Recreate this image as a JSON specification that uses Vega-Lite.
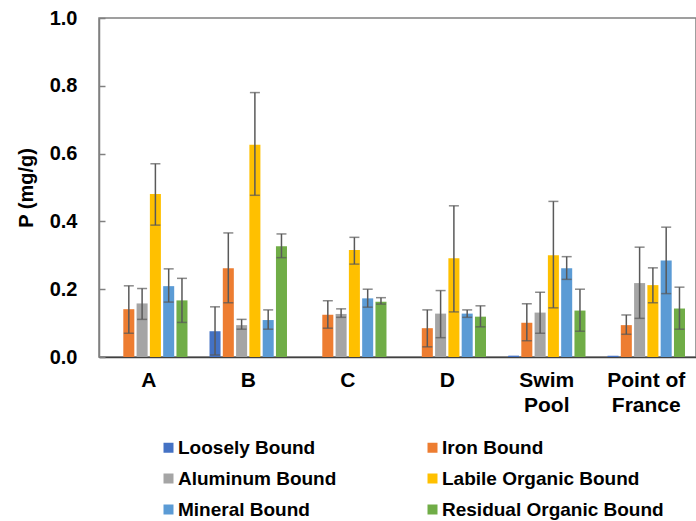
{
  "$schema": "https://vega.github.io/schema/vega-lite/v6.json",
  "width": 597,
  "height": 339,
  "autosize": "none",
  "padding": {"left": 99, "top": 18, "right": 0, "bottom": 164},
  "config": {
    "view": {"stroke": "#808080", "strokeWidth": 1.5},
    "font": "Liberation Sans"
  },
  "data": {
    "values": [
      {"site": "A", "fraction": "Loosely Bound", "value": 0},
      {"site": "A", "fraction": "Iron Bound", "value": 0.141, "lo": 0.070, "hi": 0.210},
      {"site": "A", "fraction": "Aluminum Bound", "value": 0.158, "lo": 0.111, "hi": 0.202},
      {"site": "A", "fraction": "Labile Organic Bound", "value": 0.481, "lo": 0.389, "hi": 0.570},
      {"site": "A", "fraction": "Mineral Bound", "value": 0.209, "lo": 0.162, "hi": 0.260},
      {"site": "A", "fraction": "Residual Organic Bound", "value": 0.167, "lo": 0.102, "hi": 0.232},
      {"site": "B", "fraction": "Loosely Bound", "value": 0.076, "lo": 0.006, "hi": 0.148},
      {"site": "B", "fraction": "Iron Bound", "value": 0.262, "lo": 0.160, "hi": 0.366},
      {"site": "B", "fraction": "Aluminum Bound", "value": 0.094, "lo": 0.082, "hi": 0.111},
      {"site": "B", "fraction": "Labile Organic Bound", "value": 0.626, "lo": 0.477, "hi": 0.780},
      {"site": "B", "fraction": "Mineral Bound", "value": 0.109, "lo": 0.082, "hi": 0.139},
      {"site": "B", "fraction": "Residual Organic Bound", "value": 0.327, "lo": 0.293, "hi": 0.363},
      {"site": "C", "fraction": "Loosely Bound", "value": 0},
      {"site": "C", "fraction": "Iron Bound", "value": 0.125, "lo": 0.085, "hi": 0.166},
      {"site": "C", "fraction": "Aluminum Bound", "value": 0.127, "lo": 0.117, "hi": 0.142},
      {"site": "C", "fraction": "Labile Organic Bound", "value": 0.316, "lo": 0.274, "hi": 0.353},
      {"site": "C", "fraction": "Mineral Bound", "value": 0.173, "lo": 0.147, "hi": 0.200},
      {"site": "C", "fraction": "Residual Organic Bound", "value": 0.163, "lo": 0.156, "hi": 0.175},
      {"site": "D", "fraction": "Loosely Bound", "value": 0},
      {"site": "D", "fraction": "Iron Bound", "value": 0.085, "lo": 0.030, "hi": 0.139},
      {"site": "D", "fraction": "Aluminum Bound", "value": 0.128, "lo": 0.057, "hi": 0.196},
      {"site": "D", "fraction": "Labile Organic Bound", "value": 0.291, "lo": 0.133, "hi": 0.446},
      {"site": "D", "fraction": "Mineral Bound", "value": 0.128, "lo": 0.117, "hi": 0.139},
      {"site": "D", "fraction": "Residual Organic Bound", "value": 0.119, "lo": 0.089, "hi": 0.151},
      {"site": "Swim Pool", "fraction": "Loosely Bound", "value": 0.004},
      {"site": "Swim Pool", "fraction": "Iron Bound", "value": 0.101, "lo": 0.048, "hi": 0.157},
      {"site": "Swim Pool", "fraction": "Aluminum Bound", "value": 0.131, "lo": 0.070, "hi": 0.191},
      {"site": "Swim Pool", "fraction": "Labile Organic Bound", "value": 0.300, "lo": 0.145, "hi": 0.459},
      {"site": "Swim Pool", "fraction": "Mineral Bound", "value": 0.262, "lo": 0.229, "hi": 0.296},
      {"site": "Swim Pool", "fraction": "Residual Organic Bound", "value": 0.137, "lo": 0.076, "hi": 0.200},
      {"site": "Point of France", "fraction": "Loosely Bound", "value": 0.004},
      {"site": "Point of France", "fraction": "Iron Bound", "value": 0.094, "lo": 0.067, "hi": 0.124},
      {"site": "Point of France", "fraction": "Aluminum Bound", "value": 0.218, "lo": 0.114, "hi": 0.324},
      {"site": "Point of France", "fraction": "Labile Organic Bound", "value": 0.212, "lo": 0.160, "hi": 0.263},
      {"site": "Point of France", "fraction": "Mineral Bound", "value": 0.285, "lo": 0.187, "hi": 0.383},
      {"site": "Point of France", "fraction": "Residual Organic Bound", "value": 0.143, "lo": 0.082, "hi": 0.206}
    ]
  },
  "encoding": {
    "x": {
      "field": "site",
      "type": "nominal",
      "sort": ["A", "B", "C", "D", "Swim Pool", "Point of France"],
      "scale": {"paddingInner": 0.2, "paddingOuter": 0.1},
      "axis": {
        "title": null,
        "ticks": false,
        "domainColor": "#404040",
        "domainWidth": 1.5,
        "labelAngle": 0,
        "labelFontSize": 21,
        "labelFontWeight": "bold",
        "labelColor": "#000000",
        "labelPadding": 12,
        "labelLineHeight": 25,
        "labelExpr": "datum.value == 'Swim Pool' ? ['Swim', 'Pool'] : datum.value == 'Point of France' ? ['Point of', 'France'] : datum.label"
      }
    },
    "xOffset": {
      "field": "fraction",
      "type": "nominal",
      "scale": {
        "domain": ["Loosely Bound", "Iron Bound", "Aluminum Bound", "Labile Organic Bound", "Mineral Bound", "Residual Organic Bound"],
        "paddingInner": 0.17,
        "paddingOuter": 0.08
      }
    }
  },
  "layer": [
    {
      "mark": {"type": "bar"},
      "encoding": {
        "y": {
          "field": "value",
          "type": "quantitative",
          "scale": {"domain": [0, 1]},
          "axis": {
            "title": "P (mg/g)",
            "values": [0, 0.2, 0.4, 0.6, 0.8, 1.0],
            "format": ".1f",
            "grid": false,
            "domainColor": "#808080",
            "domainWidth": 1.5,
            "tickColor": "#808080",
            "tickWidth": 1.5,
            "tickSize": -6,
            "labelFontSize": 20,
            "labelFontWeight": "bold",
            "labelColor": "#000000",
            "labelPadding": 28,
            "titleFontSize": 20,
            "titleFontWeight": "bold",
            "titleColor": "#000000",
            "titlePadding": 13
          }
        },
        "color": {
          "field": "fraction",
          "type": "nominal",
          "scale": {
            "domain": ["Loosely Bound", "Iron Bound", "Aluminum Bound", "Labile Organic Bound", "Mineral Bound", "Residual Organic Bound"],
            "range": ["#4472C4", "#ED7D31", "#A5A5A5", "#FFC000", "#5B9BD5", "#70AD47"]
          },
          "legend": {
            "title": null,
            "orient": "none",
            "direction": "horizontal",
            "legendX": 60,
            "legendY": 420,
            "columns": 2,
            "symbolType": "square",
            "symbolSize": 100,
            "symbolStrokeWidth": 0,
            "labelFontSize": 19,
            "labelFontWeight": "bold",
            "labelColor": "#000000",
            "labelLimit": 300,
            "labelOffset": 0,
            "rowPadding": 11,
            "columnPadding": 86,
            "padding": 0
          }
        }
      }
    },
    {
      "mark": {"type": "rule", "color": "#595959", "strokeWidth": 1.5},
      "encoding": {
        "y": {"field": "lo", "type": "quantitative", "title": "P (mg/g)"},
        "y2": {"field": "hi"}
      }
    },
    {
      "mark": {"type": "tick", "color": "#595959", "thickness": 1.5, "size": 10},
      "encoding": {
        "y": {"field": "hi", "type": "quantitative", "title": "P (mg/g)"}
      }
    },
    {
      "mark": {"type": "tick", "color": "#595959", "thickness": 1.5, "size": 10},
      "encoding": {
        "y": {"field": "lo", "type": "quantitative", "title": "P (mg/g)"}
      }
    }
  ]
}
